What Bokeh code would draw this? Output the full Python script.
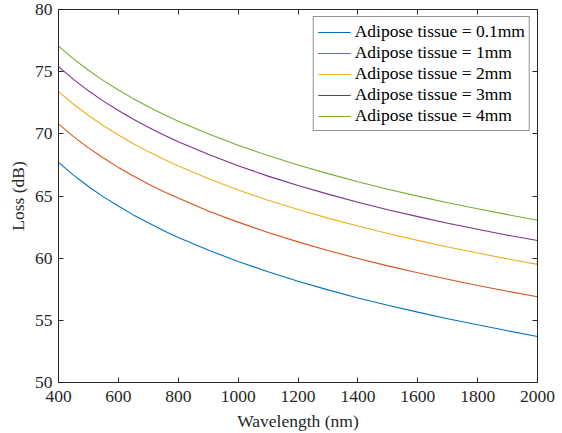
from bokeh.plotting import figure
from bokeh.models import LinearAxis, Legend, LegendItem, FixedTicker
from bokeh.embed import file_html
from bokeh.resources import INLINE

wavelength = [400, 450, 500, 550, 600, 650, 700, 750, 800, 900, 1000, 1100,
              1200, 1300, 1400, 1500, 1600, 1700, 1800, 1900, 2000]
loss_01mm = [67.70, 66.68, 65.76, 64.93, 64.20, 63.48, 62.85, 62.23, 61.67,
             60.65, 59.74, 58.90, 58.14, 57.45, 56.80, 56.22, 55.66, 55.13,
             54.64, 54.16, 53.70]
loss_1mm = [70.80, 69.78, 68.87, 68.05, 67.30, 66.61, 65.97, 65.37, 64.83,
            63.80, 62.90, 62.06, 61.31, 60.62, 59.98, 59.38, 58.83, 58.30,
            57.80, 57.34, 56.90]
loss_2mm = [73.40, 72.38, 71.47, 70.65, 69.90, 69.21, 68.57, 67.97, 67.41,
            66.40, 65.49, 64.66, 63.91, 63.22, 62.58, 61.98, 61.43, 60.90,
            60.41, 59.94, 59.50]
loss_3mm = [75.40, 74.38, 73.46, 72.63, 71.87, 71.18, 70.53, 69.93, 69.37,
            68.35, 67.43, 66.60, 65.84, 65.15, 64.50, 63.90, 63.34, 62.81,
            62.32, 61.85, 61.42]
loss_4mm = [77.05, 76.03, 75.11, 74.28, 73.52, 72.83, 72.18, 71.58, 71.02,
            70.00, 69.08, 68.25, 67.49, 66.80, 66.15, 65.55, 64.99, 64.46,
            63.97, 63.50, 63.05]

series_labels = ["Adipose tissue = 0.1mm", "Adipose tissue = 1mm",
                 "Adipose tissue = 2mm", "Adipose tissue = 3mm",
                 "Adipose tissue = 4mm"]
series = [loss_01mm, loss_1mm, loss_2mm, loss_3mm, loss_4mm]
colors = ["#0072BD", "#D95319", "#EDB120", "#7E2F8E", "#77AC30"]

x_ticks = [400, 600, 800, 1000, 1200, 1400, 1600, 1800, 2000]
y_ticks = [50, 55, 60, 65, 70, 75, 80]

FONT = "Liberation Serif"
AX = "#262626"
FS = "17.5px"

p = figure(width=562, height=433, x_range=(400, 2000), y_range=(50, 80),
           output_backend="svg", toolbar_location=None,
           min_border_left=58, min_border_right=25, min_border_top=9,
           min_border_bottom=49)
p.xgrid.visible = False
p.ygrid.visible = False
p.outline_line_color = AX
p.outline_line_width = 1
p.background_fill_color = "white"
p.border_fill_color = "white"

items = []
for ys, lab, c in zip(series, series_labels, colors):
    r = p.line(wavelength, ys, line_color=c, line_width=1.1)
    items.append(LegendItem(label=lab, renderers=[r]))

def style_axis(ax):
    ax.axis_line_color = AX
    ax.major_tick_line_color = AX
    ax.major_tick_in = 5
    ax.major_tick_out = 0
    ax.minor_tick_line_color = None
    ax.major_label_text_font = FONT
    ax.major_label_text_font_size = FS
    ax.major_label_text_color = AX
    ax.axis_label_text_font = FONT
    ax.axis_label_text_font_size = FS
    ax.axis_label_text_font_style = "normal"
    ax.axis_label_text_color = AX

p.xaxis.ticker = FixedTicker(ticks=x_ticks)
p.yaxis.ticker = FixedTicker(ticks=y_ticks)
p.xaxis.axis_label = "Wavelength (nm)"
p.yaxis.axis_label = "Loss (dB)"
p.xaxis.major_label_standoff = 8
p.yaxis.major_label_standoff = 6
p.xaxis.axis_label_standoff = 6
p.yaxis.axis_label_standoff = 4
style_axis(p.xaxis[0])
style_axis(p.yaxis[0])

top = LinearAxis(ticker=FixedTicker(ticks=x_ticks),
                 major_label_overrides={t: "" for t in x_ticks})
right = LinearAxis(ticker=FixedTicker(ticks=y_ticks),
                   major_label_overrides={t: "" for t in y_ticks})
style_axis(top)
style_axis(right)
top.major_label_standoff = 0
right.major_label_standoff = 0
p.add_layout(top, "above")
p.add_layout(right, "right")

legend = Legend(items=items, location="top_right")
legend.label_text_font = FONT
legend.label_text_font_size = FS
legend.label_text_color = "black"
legend.glyph_width = 33
legend.glyph_height = 20
legend.label_height = 20
legend.spacing = 0
legend.padding = 4
legend.margin = 7
legend.border_line_color = AX
legend.border_line_width = 1
legend.background_fill_alpha = 1
legend.label_standoff = 4
p.add_layout(legend)

open("out.html", "w").write(file_html(p, INLINE))
